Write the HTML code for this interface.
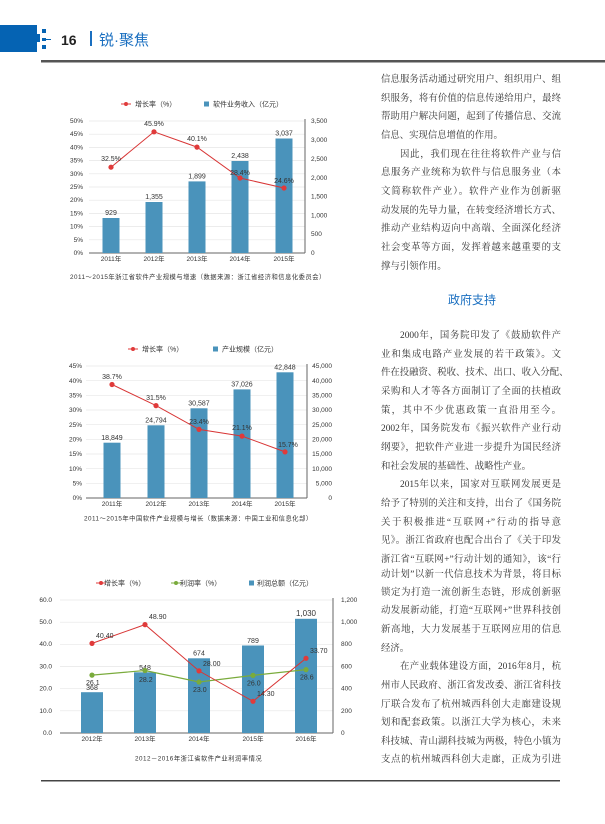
<!DOCTYPE html>
<html><head><meta charset="utf-8"><style>
body{margin:0;background:#fff;width:605px;height:824px;overflow:hidden;position:relative;font-family:"Liberation Serif","Noto Serif CJK SC",serif}
svg{position:absolute;left:0;top:0}
.t{position:absolute;left:381px;width:180px;font-size:9.4px;color:#333;text-align:justify;text-align-last:justify;white-space:nowrap;line-height:14px;height:14px;overflow:visible}
.ind{left:400px;width:161px}
.last{text-align-last:left}
</style></head><body>
<svg width="605" height="824" font-family="Liberation Sans, Noto Sans CJK SC, sans-serif">
<rect x="0" y="25" width="37" height="27" fill="#0563b3"/>
<rect x="37" y="34" width="3" height="8" fill="#0563b3"/>
<rect x="42" y="29" width="4" height="4" fill="#0563b3"/>
<rect x="42" y="38" width="4" height="3" fill="#0563b3"/>
<rect x="46" y="39" width="5" height="1" fill="#0563b3"/>
<rect x="42" y="45" width="4" height="4" fill="#0563b3"/>
<text x="61" y="45" font-size="14" font-weight="bold" fill="#222">16</text>
<rect x="90" y="31" width="2" height="15" fill="#1a6fc0"/>
<text x="99" y="45" font-size="15" fill="#1a6fc0">锐·聚焦</text>
<rect x="41" y="60" width="564" height="2.5" fill="#555"/>
<rect x="41" y="780" width="519" height="1.5" fill="#444"/>

<g font-size="7" fill="#333">
<circle cx="126" cy="104" r="2" fill="#e03a3a"/><line x1="121" y1="104" x2="131" y2="104" stroke="#e03a3a"/>
<text x="135" y="106.5">增长率（%）</text>
<rect x="204" y="101.5" width="5" height="5" fill="#4a93bb"/>
<text x="213" y="106.5">软件业务收入（亿元）</text>
<g stroke="#e6e6e6" stroke-width="0.7">
<line x1="89" x2="305" y1="121" y2="121"/><line x1="89" x2="305" y1="134.2" y2="134.2"/><line x1="89" x2="305" y1="147.4" y2="147.4"/><line x1="89" x2="305" y1="160.6" y2="160.6"/><line x1="89" x2="305" y1="173.8" y2="173.8"/><line x1="89" x2="305" y1="187" y2="187"/><line x1="89" x2="305" y1="200.2" y2="200.2"/><line x1="89" x2="305" y1="213.4" y2="213.4"/><line x1="89" x2="305" y1="226.6" y2="226.6"/><line x1="89" x2="305" y1="239.8" y2="239.8"/></g>
<line x1="89" x2="305" y1="253" y2="253" stroke="#666" stroke-width="1"/>
<line x1="305" x2="305" y1="119" y2="253" stroke="#666" stroke-width="1"/>
<g text-anchor="end" font-size="6.5"><text x="83" y="123">50%</text><text x="83" y="136">45%</text><text x="83" y="149.5">40%</text><text x="83" y="162.5">35%</text><text x="83" y="176">30%</text><text x="83" y="189">25%</text><text x="83" y="202">20%</text><text x="83" y="215.5">15%</text><text x="83" y="228.5">10%</text><text x="83" y="242">5%</text><text x="83" y="255">0%</text></g>
<g font-size="6.5"><text x="311" y="123">3,500</text><text x="311" y="142">3,000</text><text x="311" y="161">2,500</text><text x="311" y="180">2,000</text><text x="311" y="198.5">1,500</text><text x="311" y="217.5">1,000</text><text x="311" y="236">500</text><text x="311" y="255">0</text></g>
<g fill="#4a93bb"><rect x="102.5" y="218" width="17" height="35"/><rect x="145.5" y="202" width="17" height="51"/><rect x="188.5" y="181.4" width="17" height="71.6"/><rect x="231.5" y="161" width="17" height="92"/><rect x="275.5" y="138.5" width="17" height="114.5"/></g>
<g text-anchor="middle" font-size="7"><text x="111" y="215">929</text><text x="154" y="199">1,355</text><text x="197" y="178.5">1,899</text><text x="240" y="158">2,438</text><text x="284" y="135.5">3,037</text>
<text x="111" y="261" font-size="6.5">2011年</text><text x="154" y="261" font-size="6.5">2012年</text><text x="197" y="261" font-size="6.5">2013年</text><text x="240" y="261" font-size="6.5">2014年</text><text x="284" y="261" font-size="6.5">2015年</text></g>
<polyline points="111,167.2 154,131.8 197,147.1 240,178 284,188" fill="none" stroke="#d83535" stroke-width="1"/>
<g fill="#e03a3a"><circle cx="111" cy="167.2" r="2.6"/><circle cx="154" cy="131.8" r="2.6"/><circle cx="197" cy="147.1" r="2.6"/><circle cx="240" cy="178" r="2.6"/><circle cx="284" cy="188" r="2.6"/></g>
<g text-anchor="middle" font-size="7"><text x="111" y="161">32.5%</text><text x="154" y="126">45.9%</text><text x="197" y="141">40.1%</text><text x="240" y="175">28.4%</text><text x="284" y="183">24.6%</text></g>
<text x="70" y="279" font-size="6.3" letter-spacing="0.5">2011～2015年浙江省软件产业规模与增速（数据来源：浙江省经济和信息化委员会）</text>
</g>

<g font-size="7" fill="#333">
<line x1="128" y1="349" x2="138" y2="349" stroke="#e03a3a"/><circle cx="133" cy="349" r="2" fill="#e03a3a"/>
<text x="142" y="351.5">增长率（%）</text>
<rect x="213" y="346.5" width="5" height="5" fill="#4a93bb"/>
<text x="222" y="351.5">产业规模（亿元）</text>
<g stroke="#e6e6e6" stroke-width="0.7">
<line x1="86" x2="307" y1="366" y2="366"/><line x1="86" x2="307" y1="380.7" y2="380.7"/><line x1="86" x2="307" y1="395.3" y2="395.3"/><line x1="86" x2="307" y1="410" y2="410"/><line x1="86" x2="307" y1="424.7" y2="424.7"/><line x1="86" x2="307" y1="439.3" y2="439.3"/><line x1="86" x2="307" y1="454" y2="454"/><line x1="86" x2="307" y1="468.7" y2="468.7"/><line x1="86" x2="307" y1="483.3" y2="483.3"/></g>
<line x1="86" x2="307" y1="498" y2="498" stroke="#666"/>
<line x1="307" x2="307" y1="364" y2="498" stroke="#666"/>
<g text-anchor="end" font-size="6.5"><text x="82" y="368">45%</text><text x="82" y="383">40%</text><text x="82" y="397.5">35%</text><text x="82" y="412">30%</text><text x="82" y="427">25%</text><text x="82" y="441.5">20%</text><text x="82" y="456">15%</text><text x="82" y="471">10%</text><text x="82" y="485.5">5%</text><text x="82" y="500">0%</text></g>
<g text-anchor="end" font-size="6.5"><text x="332" y="368">45,000</text><text x="332" y="383">40,000</text><text x="332" y="397.5">35,000</text><text x="332" y="412">30,000</text><text x="332" y="427">25,000</text><text x="332" y="441.5">20,000</text><text x="332" y="456">15,000</text><text x="332" y="471">10,000</text><text x="332" y="485.5">5,000</text><text x="332" y="500">0</text></g>
<g fill="#4a93bb"><rect x="103.5" y="442.7" width="17" height="55.3"/><rect x="147.5" y="425.3" width="17" height="72.7"/><rect x="190.5" y="408.3" width="17" height="89.7"/><rect x="233.5" y="389.4" width="17" height="108.6"/><rect x="276.5" y="372.3" width="17" height="125.7"/></g>
<g text-anchor="middle" font-size="7"><text x="112" y="440">18,849</text><text x="156" y="422.5">24,794</text><text x="199" y="405.5">30,587</text><text x="242" y="386.5">37,026</text><text x="285" y="369.5">42,848</text>
<g font-size="6.5"><text x="112" y="506">2011年</text><text x="156" y="506">2012年</text><text x="199" y="506">2013年</text><text x="242" y="506">2014年</text><text x="285" y="506">2015年</text></g></g>
<polyline points="112,384.5 156,405.6 199,429.4 242,436.1 285,451.9" fill="none" stroke="#d83535"/>
<g fill="#e03a3a"><circle cx="112" cy="384.5" r="2.6"/><circle cx="156" cy="405.6" r="2.6"/><circle cx="199" cy="429.4" r="2.6"/><circle cx="242" cy="436.1" r="2.6"/><circle cx="285" cy="451.9" r="2.6"/></g>
<g text-anchor="middle" font-size="7"><text x="112" y="379">38.7%</text><text x="156" y="400">31.5%</text><text x="199" y="424">23.4%</text><text x="242" y="430">21.1%</text><text x="288" y="447">15.7%</text></g>
<text x="84" y="520.5" font-size="6.3" letter-spacing="0.5">2011～2015年中国软件产业规模与增长（数据来源：中国工业和信息化部）</text>
</g>

<g font-size="7" fill="#333">
<line x1="96" y1="583" x2="106" y2="583" stroke="#e03a3a"/><circle cx="101" cy="583" r="2" fill="#e03a3a"/>
<text x="104" y="585.5">增长率（%）</text>
<line x1="171" y1="583" x2="181" y2="583" stroke="#7aab3c"/><circle cx="176" cy="583" r="2" fill="#7aab3c"/>
<text x="180" y="585.5">利润率（%）</text>
<rect x="249" y="580.5" width="5" height="5" fill="#4a93bb"/>
<text x="257" y="585.5">利润总额（亿元）</text>
<g stroke="#e6e6e6" stroke-width="0.7">
<line x1="60" x2="333" y1="600" y2="600"/><line x1="60" x2="333" y1="622.2" y2="622.2"/><line x1="60" x2="333" y1="644.3" y2="644.3"/><line x1="60" x2="333" y1="666.5" y2="666.5"/><line x1="60" x2="333" y1="688.7" y2="688.7"/><line x1="60" x2="333" y1="710.8" y2="710.8"/></g>
<line x1="60" x2="333" y1="733" y2="733" stroke="#666"/>
<line x1="333" x2="333" y1="598" y2="733" stroke="#666"/>
<g text-anchor="end" font-size="6.5"><text x="52" y="602">60.0</text><text x="52" y="624">50.0</text><text x="52" y="646">40.0</text><text x="52" y="668.5">30.0</text><text x="52" y="690.5">20.0</text><text x="52" y="713">10.0</text><text x="52" y="735">0.0</text></g>
<g font-size="6.5"><text x="341" y="602">1,200</text><text x="341" y="624">1,000</text><text x="341" y="646">800</text><text x="341" y="668.5">600</text><text x="341" y="690.5">400</text><text x="341" y="713">200</text><text x="341" y="735">0</text></g>
<g fill="#4a93bb"><rect x="81" y="692.2" width="22" height="40.8"/><rect x="134" y="672.3" width="22" height="60.7"/><rect x="188" y="658.3" width="22" height="74.7"/><rect x="242" y="645.5" width="22" height="87.5"/><rect x="295" y="618.8" width="22" height="114.2"/></g>
<g text-anchor="middle" font-size="7"><text x="92" y="690">368</text><text x="145" y="670">548</text><text x="199" y="655.5">674</text><text x="253" y="643">789</text><text x="306" y="616" font-size="8">1,030</text>
<g font-size="6.5"><text x="92" y="741">2012年</text><text x="145" y="741">2013年</text><text x="199" y="741">2014年</text><text x="253" y="741">2015年</text><text x="306" y="741">2016年</text></g></g>
<polyline points="92,675.1 145,670.5 199,682 253,675.4 306,669.6" fill="none" stroke="#7aab3c" stroke-width="1.2"/>
<g fill="#7aab3c"><circle cx="92" cy="675.1" r="2.6"/><circle cx="145" cy="670.5" r="2.6"/><circle cx="199" cy="682" r="2.6"/><circle cx="253" cy="675.4" r="2.6"/><circle cx="306" cy="669.6" r="2.6"/></g>
<polyline points="92,643.4 145,624.6 199,670.9 253,701.3 306,658.3" fill="none" stroke="#d83535"/>
<g fill="#e03a3a"><circle cx="92" cy="643.4" r="2.6"/><circle cx="145" cy="624.6" r="2.6"/><circle cx="199" cy="670.9" r="2.6"/><circle cx="253" cy="701.3" r="2.6"/><circle cx="306" cy="658.3" r="2.6"/></g>
<g font-size="7"><text x="96" y="638">40.40</text><text x="149" y="619">48.90</text><text x="203" y="666">28.00</text><text x="257" y="696">14.30</text><text x="310" y="653">33.70</text>
<text x="86" y="685">26.1</text><text x="139" y="682">28.2</text><text x="193" y="692">23.0</text><text x="247" y="685.5">26.0</text><text x="300" y="679.5">28.6</text></g>
<text x="135" y="760.5" font-size="6.3" letter-spacing="0.5">2012－2016年浙江省软件产业利润率情况</text>
</g>
<text x="472" y="304" font-size="12" fill="#1a6fc0" text-anchor="middle" font-family="Liberation Sans, Noto Sans CJK SC, sans-serif">政府支持</text>
</svg>

<div class="t" style="top:73px">信息服务活动通过研究用户、组织用户、组</div>
<div class="t" style="top:92px">织服务，将有价值的信息传递给用户，最终</div>
<div class="t" style="top:110px">帮助用户解决问题，起到了传播信息、交流</div>
<div class="t last" style="top:129px">信息、实现信息增值的作用。</div>
<div class="t ind" style="top:148px">因此，我们现在往往将软件产业与信</div>
<div class="t" style="top:166px">息服务产业统称为软件与信息服务业（本</div>
<div class="t" style="top:185px">文简称软件产业）。软件产业作为创新驱</div>
<div class="t" style="top:204px">动发展的先导力量，在转变经济增长方式、</div>
<div class="t" style="top:222px">推动产业结构迈向中高端、全面深化经济</div>
<div class="t" style="top:241px">社会变革等方面，发挥着越来越重要的支</div>
<div class="t last" style="top:260px">撑与引领作用。</div>

<div class="t ind" style="top:329px">2000年，国务院印发了《鼓励软件产</div>
<div class="t" style="top:348px">业和集成电路产业发展的若干政策》。文</div>
<div class="t" style="top:366px">件在投融资、税收、技术、出口、收入分配、</div>
<div class="t" style="top:385px">采购和人才等各方面制订了全面的扶植政</div>
<div class="t" style="top:404px">策，其中不少优惠政策一直沿用至今。</div>
<div class="t" style="top:422px">2002年，国务院发布《振兴软件产业行动</div>
<div class="t" style="top:441px">纲要》，把软件产业进一步提升为国民经济</div>
<div class="t last" style="top:460px">和社会发展的基础性、战略性产业。</div>
<div class="t ind" style="top:478px">2015年以来，国家对互联网发展更是</div>
<div class="t" style="top:497px">给予了特别的关注和支持，出台了《国务院</div>
<div class="t" style="top:516px">关于积极推进“互联网+”行动的指导意</div>
<div class="t" style="top:534px">见》。浙江省政府也配合出台了《关于印发</div>
<div class="t" style="top:553px">浙江省“互联网+”行动计划的通知》，该“行</div>
<div class="t" style="top:568px">动计划”以新一代信息技术为背景，将目标</div>
<div class="t" style="top:586px">锁定为打造一流创新生态链，形成创新驱</div>
<div class="t" style="top:604px">动发展新动能，打造“互联网+”世界科技创</div>
<div class="t" style="top:623px">新高地，大力发展基于互联网应用的信息</div>
<div class="t last" style="top:642px">经济。</div>
<div class="t ind" style="top:660px">在产业载体建设方面，2016年8月，杭</div>
<div class="t" style="top:679px">州市人民政府、浙江省发改委、浙江省科技</div>
<div class="t" style="top:698px">厅联合发布了杭州城西科创大走廊建设规</div>
<div class="t" style="top:716px">划和配套政策。以浙江大学为核心，未来</div>
<div class="t" style="top:735px">科技城、青山湖科技城为两极，特色小镇为</div>
<div class="t" style="top:753px">支点的杭州城西科创大走廊，正成为引进</div>
</body></html>
